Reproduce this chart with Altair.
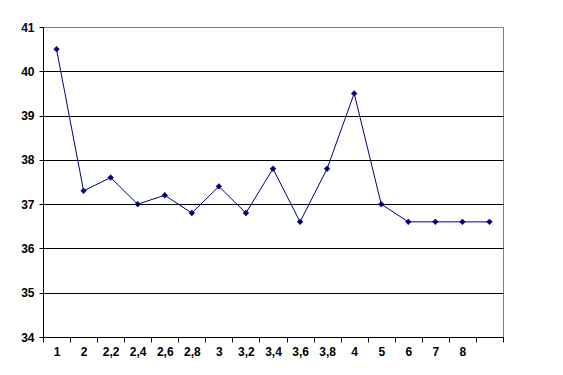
import altair as alt
import pandas as pd

categories = ["1", "2", "2,2", "2,4", "2,6", "2,8", "3", "3,2", "3,4", "3,6", "3,8", "4", "5", "6", "7", "8", "_"]
values = [40.5, 37.3, 37.6, 37.0, 37.2, 36.8, 37.4, 36.8, 37.8, 36.6, 37.8, 39.5, 37.0, 36.6, 36.6, 36.6, 36.6]
y_ticks = [34, 35, 36, 37, 38, 39, 40, 41]

df = pd.DataFrame({"cat": categories, "val": values, "order": list(range(len(categories)))})

font = "Liberation Sans"

x = alt.X("cat:N", sort=categories, title=None,
          scale=alt.Scale(paddingInner=0, paddingOuter=0),
          axis=alt.Axis(labelAngle=0, tickBand="extent", labelExpr="datum.value == '_' ? '' : datum.value",
                        domainColor="black", tickColor="black", tickSize=5, labelPadding=4,
                        labelFont=font, labelFontSize=12, labelFontWeight="bold", labelColor="black",
                        grid=False))
y = alt.Y("val:Q", title=None,
          scale=alt.Scale(domain=[34, 41], nice=False, zero=False),
          axis=alt.Axis(values=y_ticks, domainColor="black", tickColor="black", tickSize=4,
                        labelPadding=5, labelFont=font, labelFontSize=12, labelFontWeight="bold",
                        labelColor="black", grid=True,
                        gridColor={"condition": {"test": "datum.value == 41", "value": "#808080"}, "value": "black"},
                        gridOpacity=1, gridWidth=1))

base = alt.Chart(df).encode(x=x, y=y, order="order:Q")
line = base.mark_line(color="#000080", strokeWidth=1)
pts = base.mark_point(shape="diamond", filled=True, color="#000080", size=40, opacity=1)

chart = (line + pts).properties(width=460, height=310).configure_view(stroke="#808080", strokeWidth=1).properties(
    autosize=alt.AutoSizeParams(type="none"),
    padding={"left": 43, "top": 27, "right": 60, "bottom": 38},
    background="white")

chart.save("out.html", embed_options={"renderer": "svg", "actions": False})
